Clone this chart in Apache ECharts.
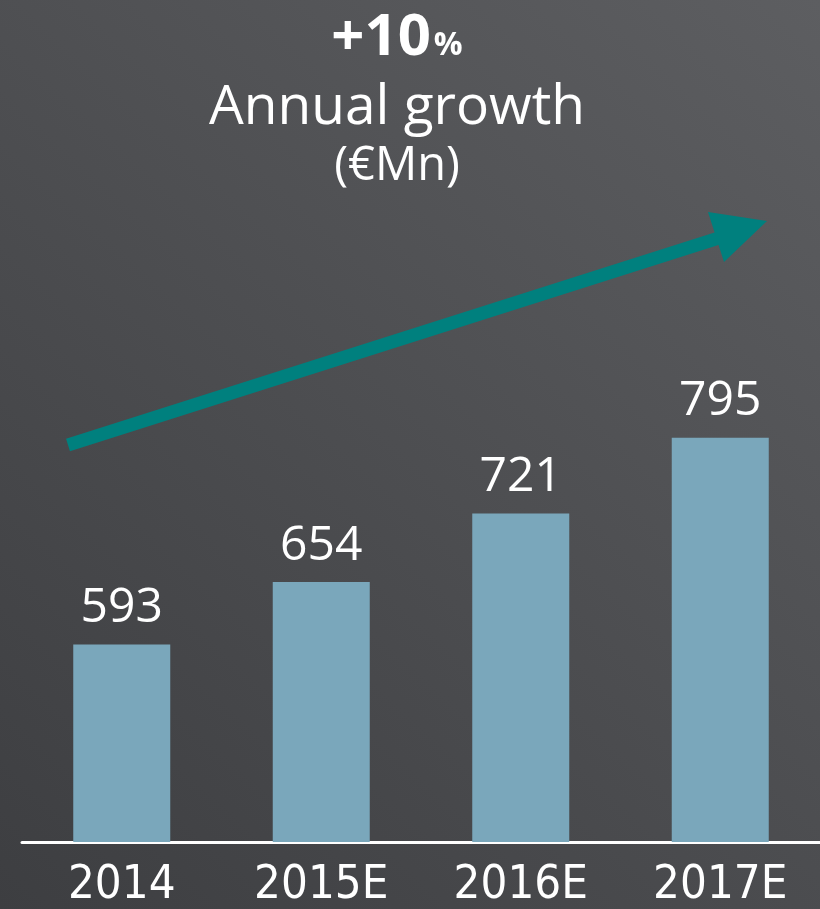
<!DOCTYPE html>
<html>
<head>
<meta charset="utf-8">
<script src="https://cdn.jsdelivr.net/npm/echarts@6/dist/echarts.min.js"></script>
<style>
  html, body { margin: 0; padding: 0; }
  #chart { width: 820px; height: 909px; }
</style>
</head>
<body>
<div id="chart"></div>
<script>
var years = ['2014', '2015E', '2016E', '2017E'];
var revenue = [593, 654, 721, 795];
var growthText = '+10';

var myChart = echarts.init(document.getElementById('chart'));

var option = {
    backgroundColor: {
        type: 'linear', x: 0, y: 1, x2: 1, y2: 0,
        colorStops: [
            {offset: 0, color: '#3d3e41'},
            {offset: 1, color: '#5d5e61'}
        ]
    },
    title: [{
        text: '{b|' + growthText + '}{p|%}',
        left: 392, top: 4, textAlign: 'center',
        textStyle: {
            rich: {
                b: {fontFamily: 'Open Sans', fontWeight: 'bold', fontSize: 58, color: '#fff'},
                p: {fontFamily: 'Open Sans', fontWeight: 'bold', fontSize: 32, color: '#fff', padding: [16, 0, 0, 3]}
            }
        }
    }, {
        text: 'Annual growth',
        left: 392, top: 76, textAlign: 'center',
        textStyle: {fontFamily: 'Open Sans', fontWeight: 'normal', fontSize: 55, color: '#fff'}
    }, {
        text: '(€Mn)',
        left: 392, top: 138, textAlign: 'center',
        textStyle: {fontFamily: 'Open Sans', fontWeight: 'normal', fontSize: 47, color: '#fff'}
    }],
    grid: {left: 22, right: -8, top: 228, bottom: 63},
    xAxis: {
        type: 'category',
        data: years,
        axisLine: {lineStyle: {color: '#fff', width: 3}},
        axisTick: {show: false},
        axisLabel: {
            color: '#fff', fontSize: 47, margin: 20,
            fontFamily: 'Liberation Sans Narrow, DejaVu Sans Condensed, sans-serif'
        }
    },
    yAxis: {
        type: 'value', min: 400, max: 1000,
        show: false, splitLine: {show: false}
    },
    series: [{
        type: 'bar',
        data: revenue,
        barWidth: 97,
        itemStyle: {color: '#7aa7bb'},
        label: {
            show: true, position: 'top', distance: 12,
            color: '#fff', fontSize: 48, fontFamily: 'Open Sans'
        }
    }],
    graphic: [{
        type: 'line',
        shape: {x1: 68, y1: 445, x2: 722, y2: 237},
        style: {stroke: '#00807e', lineWidth: 13}
    }, {
        type: 'polygon',
        shape: {points: [[767, 221], [708, 212], [724, 262]]},
        style: {fill: '#00807e'}
    }]
};
myChart.setOption(option);
</script>
</body>
</html>
